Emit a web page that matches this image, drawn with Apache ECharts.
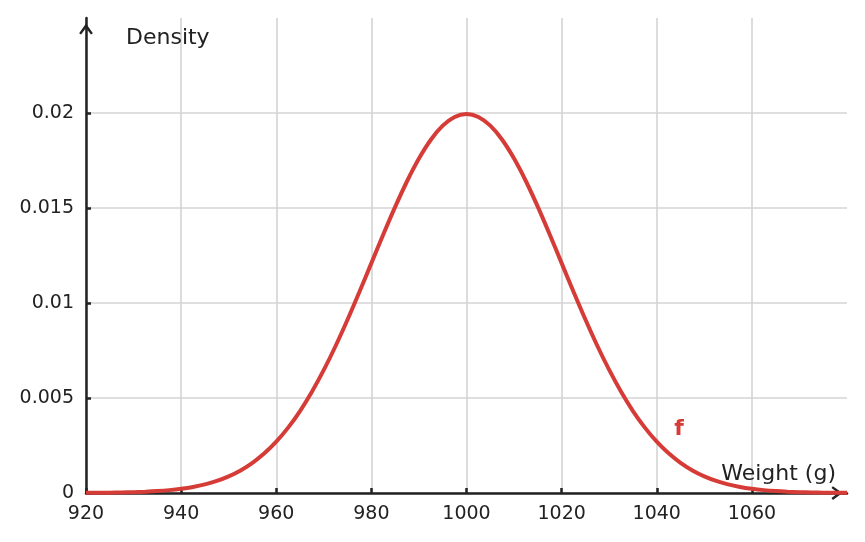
<!DOCTYPE html>
<html lang="en" style="height: 100%">
<head>
  <meta charset="utf-8">
  <title>Weight density</title>
</head>
<body style="height: 100%; margin: 0; background: #fff">
  <div id="container" style="height: 100%"></div>
  <script type="text/javascript" src="https://fastly.jsdelivr.net/npm/echarts@6.0.0/dist/echarts.min.js"></script>
  <script type="text/javascript">
    // weight (g) and density
    const weights = [920, 922.5, 925, 927.5, 930, 932.5, 935, 937.5, 940, 942.5, 945, 947.5, 950,
                     952.5, 955, 957.5, 960, 962.5, 965, 967.5, 970, 972.5, 975, 977.5, 980, 982.5,
                     985, 987.5, 990, 992.5, 995, 997.5, 1000, 1002.5, 1005, 1007.5, 1010, 1012.5,
                     1015, 1017.5, 1020, 1022.5, 1025, 1027.5, 1030, 1032.5, 1035, 1037.5, 1040,
                     1042.5, 1045, 1047.5, 1050, 1052.5, 1055, 1057.5, 1060, 1062.5, 1065, 1067.5,
                     1070, 1072.5, 1075, 1077.5, 1080];
    const density = [0.0000067, 0.000011, 0.0000176, 0.0000279, 0.0000436, 0.000067, 0.000101,
                     0.000151, 0.000222, 0.00032, 0.000455, 0.000636, 0.000876, 0.001188, 0.001587,
                     0.002086, 0.0027, 0.00344, 0.004314, 0.005327, 0.006476, 0.007751, 0.009132,
                     0.010594, 0.012099, 0.013603, 0.015057, 0.016408, 0.017603, 0.018593, 0.019333,
                     0.019792, 0.019947, 0.019792, 0.019333, 0.018593, 0.017603, 0.016408, 0.015057,
                     0.013603, 0.012099, 0.010594, 0.009132, 0.007751, 0.006476, 0.005327, 0.004314,
                     0.00344, 0.0027, 0.002086, 0.001587, 0.001188, 0.000876, 0.000636, 0.000455,
                     0.00032, 0.000222, 0.000151, 0.000101, 0.000067, 0.0000436, 0.0000279,
                     0.0000176, 0.000011, 0.0000067];
    const xTicks = [920, 940, 960, 980, 1000, 1020, 1040, 1060];
    const yTicks = [0, 0.005, 0.01, 0.015, 0.02];
    const curveLabel = { text: 'f', at: [1044.7, 0.00334] };

    var dom = document.getElementById('container');
    var myChart = echarts.init(dom, null, { renderer: 'canvas' });

    const red = '#d63c37';
    const ink = '#222222';
    const chevron = 'path://M5,0 L10,7 L8.6,8 L5,3.2 L1.4,8 L0,7 Z';

    var option = {
      animation: false,
      textStyle: { fontFamily: 'DejaVu Sans' },
      grid: { left: 86, right: 18, top: 18, bottom: 49 },
      xAxis: {
        type: 'value',
        min: 920,
        max: 1080,
        interval: 20,
        name: 'Weight (g)',
        nameLocation: 'end',
        nameGap: -11,
        nameTextStyle: {
          fontSize: 22, color: ink, align: 'right', verticalAlign: 'bottom',
          padding: [0, 0, 8, 0]
        },
        axisLine: {
          show: true,
          lineStyle: { color: ink, width: 2.5 },
          symbol: ['none', chevron],
          symbolSize: [14, 11],
          symbolOffset: [0, -10]
        },
        axisTick: {
          show: true, inside: true, length: 5, customValues: xTicks,
          lineStyle: { color: ink, width: 2.5 }
        },
        axisLabel: {
          fontSize: 19, color: ink, margin: 12, customValues: xTicks,
          formatter: function (v) { return String(v); }
        },
        splitLine: { show: true, lineStyle: { color: '#d4d4d4', width: 1.6 } }
      },
      yAxis: {
        type: 'value',
        min: 0,
        max: 0.025,
        interval: 0.005,
        name: 'Density',
        nameLocation: 'end',
        nameGap: -20,
        nameTextStyle: {
          fontSize: 22, color: ink, align: 'left', verticalAlign: 'middle',
          padding: [0, 0, 0, 40]
        },
        axisLine: {
          show: true,
          lineStyle: { color: ink, width: 2.5 },
          symbol: ['none', chevron],
          symbolSize: [14, 11],
          symbolOffset: [0, -11]
        },
        axisTick: {
          show: true, inside: true, length: 5, customValues: yTicks,
          lineStyle: { color: ink, width: 2.5 }
        },
        axisLabel: {
          fontSize: 19, color: ink, margin: 12, customValues: yTicks,
          formatter: function (v) { return String(+v.toFixed(3)); }
        },
        splitLine: { show: true, lineStyle: { color: '#d4d4d4', width: 1.6 } }
      },
      series: [
        {
          type: 'line',
          smooth: 0.3,
          showSymbol: false,
          clip: false,
          data: weights.map(function (w, i) { return [w, density[i]]; }),
          lineStyle: { color: red, width: 4 },
          markPoint: {
            symbol: 'circle',
            symbolSize: 0,
            silent: true,
            label: {
              show: true, position: 'inside', formatter: curveLabel.text,
              color: red, fontSize: 22, fontWeight: 'bold'
            },
            data: [{ coord: curveLabel.at }]
          }
        }
      ]
    };

    myChart.setOption(option);
    window.addEventListener('resize', myChart.resize);
  </script>
</body>
</html>
